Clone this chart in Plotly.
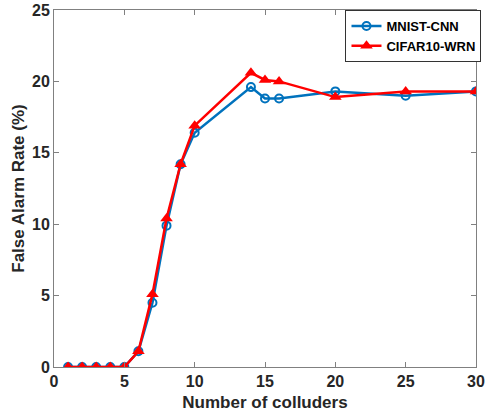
import plotly.graph_objects as go

colluders = [1, 2, 3, 4, 5, 6, 7, 8, 9, 10, 14, 15, 16, 20, 25, 30]
mnist_cnn = [0, 0, 0, 0, 0, 1.1, 4.5, 9.9, 14.2, 16.4, 19.6, 18.8, 18.8, 19.3, 19.0, 19.3]
cifar10_wrn = [0, 0, 0, 0, 0, 1.1, 5.1, 10.4, 14.2, 16.9, 20.6, 20.1, 20.0, 18.9, 19.3, 19.3]
x_ticks = [0, 5, 10, 15, 20, 25, 30]
y_ticks = [0, 5, 10, 15, 20, 25]

fig = go.Figure()
fig.add_trace(go.Scatter(
    x=colluders, y=mnist_cnn, name="MNIST-CNN", mode="lines+markers",
    line=dict(color="#0072BD", width=2.5),
    marker=dict(symbol="circle-open", size=8, color="#0072BD", line=dict(width=2)),
))
fig.add_trace(go.Scatter(
    x=colluders, y=cifar10_wrn, name="CIFAR10-WRN", mode="lines+markers",
    line=dict(color="#FF0000", width=2.5),
    marker=dict(symbol="triangle-up", size=11, color="#FF0000"),
))

axis_common = dict(
    showline=True, linecolor="#808080", linewidth=1, mirror="ticks",
    ticks="inside", ticklen=5, tickcolor="#808080", showgrid=False, zeroline=False,
    automargin=False,
    tickfont=dict(family="Liberation Sans", size=16, color="#262626", weight="bold"),
)
fig.update_xaxes(range=[0, 30], tickvals=x_ticks,
                 title=dict(text="Number of colluders", standoff=6,
                            font=dict(family="Liberation Sans", size=17, color="#262626", weight="bold")),
                 **axis_common)
fig.update_yaxes(range=[0, 25], tickvals=y_ticks,
                 title=dict(text="False Alarm Rate (%)", standoff=3,
                            font=dict(family="Liberation Sans", size=17, color="#262626", weight="bold")),
                 **axis_common)
fig.update_layout(
    width=490, height=415,
    margin=dict(l=54, r=9, t=10, b=48),
    plot_bgcolor="white", paper_bgcolor="white",
    legend=dict(x=1.013, y=1.0, xanchor="right", yanchor="top",
                bgcolor="white", bordercolor="#333333", borderwidth=1,
                font=dict(family="Liberation Sans", size=13, color="black", weight="bold"),
                tracegroupgap=0, itemwidth=30),
)
fig.write_html("out.html", config={"displayModeBar": False},
               post_script="document.body.style.margin='0';")
